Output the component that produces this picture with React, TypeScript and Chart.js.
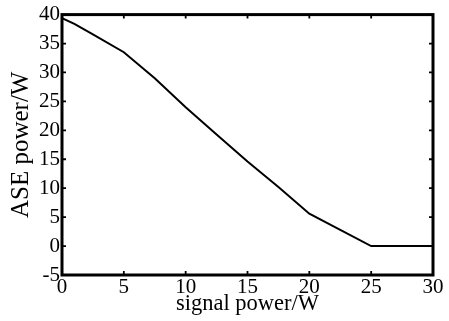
import React, { useEffect, useRef } from "react";
import { Chart, registerables } from "chart.js";

Chart.register(...registerables);

const signalPower = [0, 1, 2.5, 5, 7.5, 10, 12.5, 15, 17.5, 20, 22.5, 25, 30];
const asePower = [39.4, 38.4, 36.6, 33.5, 29, 24, 19.3, 14.6, 10.2, 5.6, 2.8, 0, 0];
const xTicks = [0, 5, 10, 15, 20, 25, 30];
const yTicks = [-5, 0, 5, 10, 15, 20, 25, 30, 35, 40];

const FONT = "'Liberation Serif', 'Times New Roman', serif";

const framePlugin = {
  id: "frame",
  afterDatasetsDraw(chart: any) {
    const { ctx, chartArea, scales } = chart;
    const { left, right, top, bottom } = chartArea;
    ctx.save();
    ctx.strokeStyle = "#000";
    ctx.lineWidth = 1.8;
    const tl = 4;
    ctx.beginPath();
    for (const v of xTicks) {
      const px = scales.x.getPixelForValue(v);
      ctx.moveTo(px, bottom);
      ctx.lineTo(px, bottom - tl);
      ctx.moveTo(px, top);
      ctx.lineTo(px, top + tl);
    }
    for (const v of yTicks) {
      const py = scales.y.getPixelForValue(v);
      ctx.moveTo(left, py);
      ctx.lineTo(left + tl, py);
      ctx.moveTo(right, py);
      ctx.lineTo(right - tl, py);
    }
    ctx.stroke();
    ctx.lineWidth = 3;
    ctx.strokeRect(left, top, right - left, bottom - top);
    ctx.restore();
  },
};

export default function App() {
  const ref = useRef<HTMLCanvasElement>(null);
  useEffect(() => {
    const canvas = ref.current;
    if (!canvas) return;
    const chart = new Chart(canvas, {
      type: "line",
      data: {
        datasets: [
          {
            data: signalPower.map((x, i) => ({ x, y: asePower[i] })),
            borderColor: "#000",
            borderWidth: 2,
            pointRadius: 0,
            tension: 0,
            fill: false,
          },
        ],
      },
      options: {
        animation: false,
        responsive: false,
        layout: { padding: { top: 13, right: 16, left: 0, bottom: 0 } },
        plugins: { legend: { display: false }, tooltip: { enabled: false } },
        scales: {
          x: {
            type: "linear",
            min: 0,
            max: 30,
            afterBuildTicks: (s: any) => {
              s.ticks = xTicks.map((v) => ({ value: v }));
            },
            afterFit: (s: any) => {
              s.height = 46;
            },
            ticks: {
              font: { family: FONT, size: 21 },
              color: "#000",
              padding: 0,
              maxRotation: 0,
              autoSkip: false,
            },
            grid: { display: false, drawTicks: false },
            border: { display: false },
            title: {
              display: true,
              text: "signal power/W",
              font: { family: FONT, size: 22.5 },
              color: "#000",
              padding: { top: 0, bottom: 3 },
            },
          },
          y: {
            type: "linear",
            min: -5,
            max: 40,
            afterBuildTicks: (s: any) => {
              s.ticks = yTicks.map((v) => ({ value: v }));
            },
            afterFit: (s: any) => {
              s.width = 62;
            },
            ticks: {
              font: { family: FONT, size: 21 },
              color: "#000",
              padding: 2,
              autoSkip: false,
            },
            grid: { display: false, drawTicks: false },
            border: { display: false },
            title: {
              display: true,
              text: "ASE power/W",
              font: { family: FONT, size: 25 },
              color: "#000",
              padding: { top: 6, bottom: 0 },
            },
          },
        },
      },
      plugins: [framePlugin],
    } as any);
    return () => chart.destroy();
  }, []);
  return (
    <div style={{ position: "fixed", left: 0, top: 0, width: 449, height: 321, background: "#fff" }}>
      <canvas ref={ref} width={449} height={321} style={{ display: "block", width: 449, height: 321 }} />
    </div>
  );
}
